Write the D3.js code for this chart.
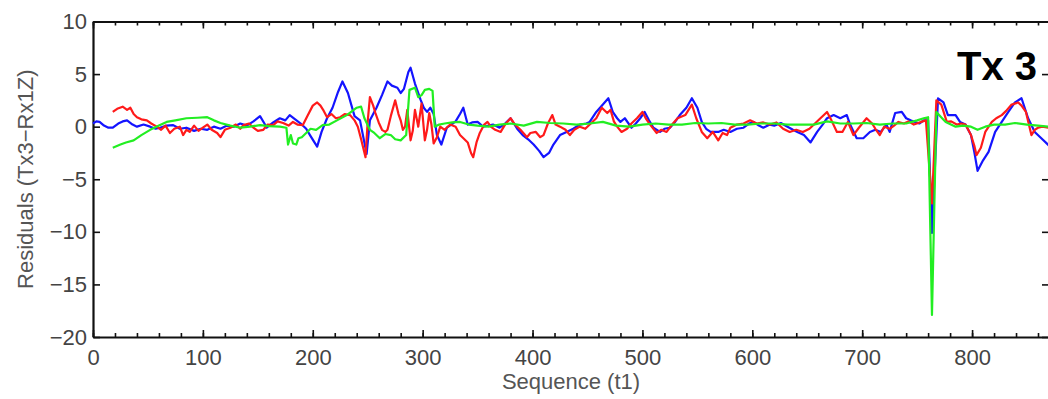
<!DOCTYPE html>
<html>
<head>
<meta charset="utf-8">
<script src="https://cdn.jsdelivr.net/npm/d3@7"></script>
<style>
  html, body { margin: 0; padding: 0; background: #fff; }
  svg { display: block; }
  .axis text { font-family: "Liberation Sans", Arial, sans-serif; font-size: 22px; fill: #444; }
  .axis path, .axis line { stroke: #111; }
  .lbl { font-family: "Liberation Sans", Arial, sans-serif; font-size: 22px; fill: #555; }
</style>
</head>
<body>
<svg id="chart" width="1048" height="399"></svg>
<script>
// residual series: [sequence, residual]
var blueSeries = [[0,0.3],[3,0.5],[6,0.45],[10,0.1],[14,-0.1],[18,-0.1],[23,0.3],[27,0.5],[31,0.6],[36,0.2],[40,0],[46,0.2],[52,0],[57,-0.2],[61,-0.1],[67,0.1],[73,0.15],[79,-0.2],[85,-0.1],[92,-0.4],[98,-0.2],[104,-0.3],[110,0],[116,-0.2],[122,0.1],[128,0],[134,0.3],[140,0.1],[146,0.5],[152,1.0],[156,0.3],[158,-0.1],[164,0.4],[170,0.8],[175,0.6],[179,1.1],[184,0.7],[189,0.3],[194,-0.2],[198,-0.9],[204,-1.9],[208,-0.5],[213,0.8],[218,1.8],[223,3.3],[227,4.3],[232,3.2],[238,1.0],[243,0.6],[249,-2.6],[252,0.6],[258,1.8],[263,3.0],[268,4.3],[272,3.9],[277,3.7],[280,3.2],[283,3.6],[287,5.2],[289,5.6],[293,4.1],[298,2.6],[301,1.8],[304,1.4],[307,1.8],[310,1.2],[313,-0.8],[317,-1.7],[322,-0.1],[326,0.2],[330,0.5],[334,1.2],[337,1.8],[341,0.2],[345,0.4],[350,0.45],[355,0],[360,0.1],[364,0.2],[370,-0.1],[375,0.3],[380,0.8],[386,-0.2],[391,-0.8],[396,-1.2],[401,-1.7],[406,-2.3],[410,-2.9],[415,-2.5],[419,-1.7],[425,-0.8],[431,-0.5],[437,-0.2],[443,0.2],[449,0.3],[452,0.45],[458,1.4],[464,2.1],[469,2.7],[473,1.4],[477,0.8],[480,0.45],[484,0.8],[490,-0.1],[494,0.3],[498,0.8],[502,1.4],[506,0.6],[510,-0.1],[516,-0.5],[520,-0.2],[525,-0.1],[530,0.5],[534,1.1],[540,1.8],[545,2.7],[550,1.8],[554,0.45],[558,-0.2],[562,-0.5],[569,-0.5],[574,-0.3],[580,-0.5],[586,-0.2],[592,-0.1],[597,0.3],[601,0.45],[606,0.1],[610,-0.1],[616,0.2],[620,0.1],[626,0.35],[632,0],[637,-0.3],[641,-0.5],[647,-0.8],[653,-1.5],[659,-0.5],[664,0.2],[668,0.8],[674,1.1],[680,0.8],[686,1.1],[689,0.2],[695,-1.1],[701,-1.1],[707,-0.5],[712,-0.3],[717,-0.5],[722,0.2],[725,-0.5],[730,1.3],[736,1.4],[740,0.8],[744,0.6],[748,0.45],[752,0.3],[756,0.6],[760,0.6],[763.5,-10.1],[769,2.7],[774,2.3],[778,1.1],[785,1.1],[789,0.45],[794,0.2],[799,-0.8],[802,-2.4],[805,-4.2],[810,-3.2],[815,-2.4],[821,-0.5],[827,0.45],[833,1.4],[839,2.3],[845,2.7],[851,0.8],[857,-0.5],[863,-1.1],[870,-1.8]];

var redSeries = [[18,1.4],[22,1.7],[27,1.9],[31,1.6],[34,1.8],[37,1.2],[40,0.9],[44,0.7],[49,0.6],[53,0.3],[58,0],[62,-0.3],[66,0.1],[70,-0.6],[74,-0.2],[79,0],[82,-0.8],[85,-0.3],[88,-0.5],[92,0.1],[96,-0.4],[100,-0.1],[104,0.2],[108,-0.3],[113,-0.6],[116,-1],[120,-0.3],[125,-0.1],[130,0.2],[134,-0.2],[137,0.15],[142,0.3],[146,-0.1],[150,-0.4],[155,-0.3],[159,0.2],[164,0.15],[168,0.5],[173,0.35],[178,0.1],[182,0.45],[186,0.2],[191,0.15],[195,1.0],[200,2.0],[204,2.3],[207,2.0],[210,1.5],[213,0.9],[217,1.2],[221,0.8],[225,0.9],[229,1.2],[234,1.1],[238,0.6],[241,0],[244,-1.2],[248,-2.9],[250,0.5],[252,2.8],[255,2.0],[257,1.3],[260,0.4],[263,-0.3],[266,-0.5],[268,-0.3],[271,1.0],[275,2.5],[278,1.2],[280,0.6],[282,-0.3],[284,0],[286,1.6],[289,-1.3],[291,-0.4],[293,1.6],[296,0.0],[299,2.2],[302,-1.3],[304,-0.3],[306,1.3],[308,0.2],[310,-1.6],[313,-1.0],[316,0],[320,-0.3],[325,0.2],[330,0],[334,-0.8],[338,-1.2],[341,-1.5],[344,-2.5],[346,-2.9],[349,-1.5],[352,-0.6],[356,0.2],[359,0.45],[362,0],[366,-0.3],[371,-0.5],[375,0.2],[380,0.8],[384,0.2],[389,-0.3],[395,-1],[398,-0.6],[403,-0.5],[407,-1],[410,-0.8],[414,0.3],[418,1.1],[421,0.2],[425,0],[430,-0.3],[434,-0.8],[438,-0.3],[443,0],[448,-0.2],[453,0.3],[458,0.8],[463,1.8],[468,1.3],[471,1.6],[474,0.5],[477,0],[481,-0.5],[486,-0.2],[490,0.3],[495,0.8],[500,1.4],[503,0.8],[507,0.2],[513,-0.6],[517,-0.3],[522,-0.5],[527,0.2],[532,0.8],[539,1.1],[545,2.1],[549,0.8],[554,-0.5],[559,-1.1],[564,-0.5],[569,-1.3],[573,-0.6],[577,-0.8],[580,-0.1],[586,0.2],[592,0.3],[598,0.6],[604,0.3],[610,0.4],[616,0.2],[622,0.4],[628,-0.2],[634,-0.5],[640,-0.3],[646,-0.5],[652,-0.2],[657,0.3],[662,0.8],[668,1.4],[672,0.6],[677,-0.5],[682,-0.5],[687,0.45],[692,-0.8],[697,-0.1],[704,0.8],[709,0.3],[712,-0.2],[716,-0.8],[720,0],[725,-0.2],[729,0.1],[733,0.45],[738,0.3],[742,0.5],[747,0.2],[751,0.35],[755,0.5],[758,0.6],[763.5,-7.3],[767.5,2.5],[772,2.1],[777,0.45],[781,0.5],[786,0.2],[790,0.3],[794,0.2],[799,-0.8],[802,-1.8],[804,-2.7],[808,-2],[812,-0.5],[818,0.45],[822,0.8],[827,1.1],[831,1.5],[836,2.1],[842,2.3],[845,2.0],[849,1.4],[854,-0.8],[857,-0.3],[860,-0.1],[864,0],[870,-0.1]];

var greenSeries = [[18,-2],[25,-1.7],[30,-1.5],[37,-1.3],[44,-0.8],[52,-0.3],[60,0.1],[67,0.45],[75,0.6],[85,0.8],[95,0.85],[104,0.9],[110,0.6],[116,0.35],[125,0.1],[134,-0.1],[143,0],[152,0.15],[160,0.05],[170,0],[176,-0.1],[177.5,-1.7],[180,-0.8],[182,-1.6],[185,-1.7],[187,-1.1],[190,-1.0],[194,-0.6],[198,-0.2],[203,-0.3],[209,0.15],[215,0.2],[222,0.6],[231,1.1],[240,1.8],[244,1.9],[247,0.8],[252,-0.3],[256,-0.6],[261,-1.1],[266,-0.7],[271,-0.8],[275,-1.2],[280,-1.3],[285,-0.8],[288,3.5],[293,3.7],[296,2.8],[299,3.0],[302,3.5],[306,3.6],[309,3.4],[311,0],[315,0.2],[320,0.3],[327,0.4],[334,0.45],[342,0.2],[350,0.1],[360,0],[370,0.2],[380,0.3],[392,0.1],[404,0.45],[416,0.35],[428,0.3],[440,0.2],[452,0.3],[464,0.45],[476,0.1],[488,0],[500,0.2],[512,0.3],[524,0.2],[536,0.2],[548,0.35],[560,0.3],[572,0.35],[584,0.2],[596,0.2],[608,0.3],[620,0.3],[632,0.2],[644,0.2],[656,0.2],[668,0.5],[680,0.3],[692,0.3],[704,0.35],[716,0.2],[728,0.3],[740,0.3],[750,0.6],[756,0.8],[760,0.9],[763.5,-17.9],[767.5,1.4],[771,1.0],[776,0.45],[785,0],[792,0.1],[799,0],[805,-0.3],[812,0],[820,0.2],[830,0.2],[839,0.35],[850,0.2],[860,0.1],[870,0]];

var xMajorTicks = [0, 100, 200, 300, 400, 500, 600, 700, 800];
var yMajorTicks = [-20, -15, -10, -5, 0, 5, 10];

var svg = d3.select("#chart");
var plotLeft = 93, plotRight = 1049, plotTop = 21.5, plotBottom = 337;

var x = d3.scaleLinear().domain([0, 870]).range([plotLeft, plotRight]);
var y = d3.scaleLinear().domain([-20, 10]).range([plotBottom, plotTop]);

var minorX = d3.range(0, 871, 20);

// minor ticks first, majors drawn over them
svg.append("g").attr("class", "axis")
    .attr("transform", "translate(0," + plotBottom + ")")
    .call(d3.axisBottom(x).tickValues(minorX).tickSize(-4).tickSizeOuter(0).tickFormat(""))
    .call(function (g) { g.select(".domain").remove(); });
svg.append("g").attr("class", "axis")
    .attr("transform", "translate(0," + plotTop + ")")
    .call(d3.axisTop(x).tickValues(minorX).tickSize(-4).tickSizeOuter(0).tickFormat(""))
    .call(function (g) { g.select(".domain").remove(); });

svg.append("g").attr("class", "axis")
    .attr("transform", "translate(0," + plotBottom + ")")
    .call(d3.axisBottom(x).tickValues(xMajorTicks).tickSize(-7).tickSizeOuter(0).tickPadding(12));
svg.append("g").attr("class", "axis")
    .attr("transform", "translate(0," + plotTop + ")")
    .call(d3.axisTop(x).tickValues(xMajorTicks).tickSize(-7).tickSizeOuter(0).tickFormat(""));
svg.append("g").attr("class", "axis")
    .attr("transform", "translate(" + plotLeft + ",0)")
    .call(d3.axisLeft(y).tickValues(yMajorTicks).tickSize(-7).tickSizeOuter(0).tickPadding(6)
        .tickFormat(function (d) { return d < 0 ? "\u2212" + Math.abs(d) : d; }));
svg.append("g").attr("class", "axis")
    .attr("transform", "translate(" + plotRight + ",0)")
    .call(d3.axisRight(y).tickValues(yMajorTicks).tickSize(-7).tickSizeOuter(0).tickFormat(""));

svg.selectAll(".axis .domain").attr("stroke-width", 2.2);
svg.selectAll(".axis .tick line").attr("stroke-width", 1.6);

var line = d3.line()
    .x(function (d) { return x(d[0]); })
    .y(function (d) { return y(d[1]); });

var series = [
    { data: blueSeries, color: "#1414ff" },
    { data: redSeries, color: "#ff1a1a" },
    { data: greenSeries, color: "#22ee22" }
];

svg.append("g").selectAll("path").data(series).enter()
    .append("path")
    .attr("d", function (d) { return line(d.data); })
    .attr("fill", "none")
    .attr("stroke", function (d) { return d.color; })
    .attr("stroke-width", 2.2)
    .attr("stroke-linejoin", "round");

svg.append("text").attr("class", "lbl")
    .attr("x", (plotLeft + plotRight) / 2).attr("y", 389)
    .attr("text-anchor", "middle")
    .text("Sequence (t1)");

svg.append("text").attr("class", "lbl")
    .attr("transform", "translate(33," + ((plotTop + plotBottom) / 2) + ") rotate(-90)")
    .attr("text-anchor", "middle")
    .text("Residuals (Tx3\u2212Rx1Z)");

svg.append("text")
    .attr("x", 1037).attr("y", 80)
    .attr("text-anchor", "end")
    .style("font-family", "'Liberation Sans', Arial, sans-serif")
    .style("font-weight", "bold")
    .style("font-size", "40px")
    .style("fill", "#000")
    .text("Tx 3");
</script>
</body>
</html>
